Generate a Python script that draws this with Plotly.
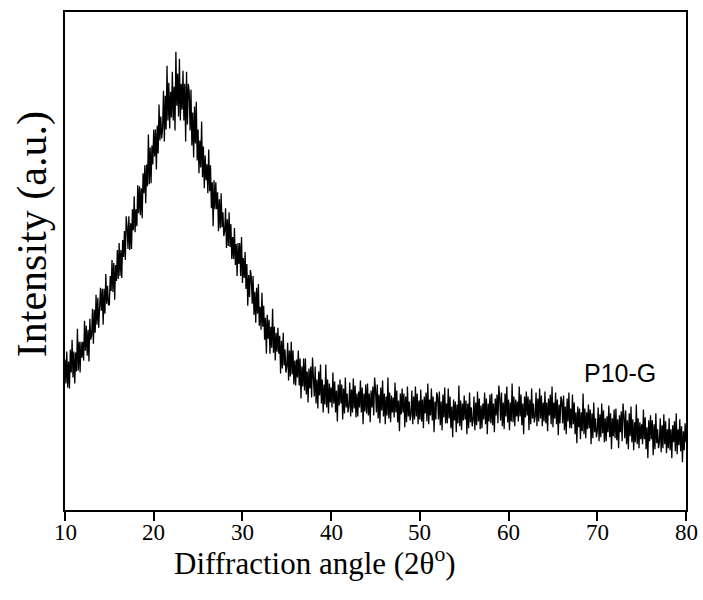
import numpy as np
import plotly.graph_objects as go

# 2-theta sampling grid (degrees), 0.1 deg step from 10 to 80
two_theta = np.round(np.arange(10.0, 80.0001, 0.1), 1)

# Intensity (a.u.), one row per degree
intensity = [
    151, 127, 159, 123, 149, 122, 161, 138, 171, 133,  # 10
    159, 127, 158, 139, 182, 140, 169, 138, 169, 153,  # 11
    169, 150, 190, 160, 185, 155, 181, 149, 192, 171,  # 12
    175, 202, 167, 201, 178, 216, 186, 213, 183, 210,  # 13
    223, 200, 222, 186, 222, 197, 237, 207, 225, 206,  # 14
    206, 235, 220, 251, 219, 248, 211, 246, 230, 261,  # 15
    232, 268, 235, 261, 233, 271, 254, 280, 251, 295,  # 16
    284, 262, 295, 261, 288, 262, 302, 281, 315, 279,  # 17
    302, 285, 326, 298, 325, 296, 323, 293, 338, 318,  # 18
    346, 308, 347, 325, 377, 327, 364, 328, 366, 347,  # 19
    382, 355, 382, 342, 386, 358, 407, 371, 395, 373,  # 20
    383, 421, 370, 416, 382, 446, 391, 429, 383, 420,  # 21
    394, 440, 391, 425, 381, 460, 406, 438, 395, 453,  # 22
    391, 428, 402, 441, 391, 428, 370, 440, 387, 428,  # 23
    420, 381, 422, 366, 399, 354, 405, 368, 410, 351,  # 24
    382, 338, 371, 344, 390, 334, 365, 323, 356, 331,  # 25
    347, 318, 362, 320, 346, 303, 329, 285, 331, 302,  # 26
    329, 302, 319, 280, 312, 283, 318, 284, 299, 275,  # 27
    280, 303, 263, 292, 265, 299, 264, 287, 252, 274,  # 28
    252, 283, 246, 267, 235, 268, 247, 268, 235, 274,  # 29
    228, 253, 233, 259, 222, 247, 205, 236, 214, 241,  # 30
    234, 207, 235, 196, 219, 188, 223, 197, 227, 185,  # 31
    204, 181, 218, 184, 205, 171, 193, 157, 196, 172,  # 32
    191, 157, 184, 163, 202, 158, 184, 150, 178, 159,  # 33
    183, 157, 175, 137, 170, 142, 178, 145, 161, 138,  # 34
    144, 168, 130, 160, 134, 169, 136, 160, 126, 150,  # 35
    125, 151, 133, 160, 125, 152, 112, 144, 124, 152,  # 36
    120, 152, 116, 139, 108, 142, 122, 144, 113, 153,  # 37
    139, 114, 144, 107, 131, 102, 139, 115, 146, 107,  # 38
    131, 98, 126, 106, 146, 103, 131, 97, 127, 108,    # 39
    123, 103, 138, 107, 129, 98, 120, 89, 126, 105,    # 40
    131, 107, 126, 91, 122, 97, 133, 103, 117, 98,     # 41
    104, 128, 94, 121, 98, 132, 102, 125, 93, 117,     # 42
    94, 119, 103, 130, 98, 123, 86, 117, 99, 126,      # 43
    97, 127, 95, 117, 88, 120, 103, 124, 95, 133,      # 44
    121, 98, 126, 92, 116, 87, 123, 100, 130, 94,      # 45
    117, 86, 114, 95, 133, 92, 118, 88, 115, 98,       # 46
    113, 93, 128, 98, 120, 88, 110, 79, 117, 96,       # 47
    122, 98, 117, 83, 114, 88, 124, 94, 109, 90,       # 48
    96, 120, 86, 114, 91, 124, 94, 117, 86, 110,       # 49
    91, 121, 89, 111, 82, 114, 97, 118, 89, 127,       # 50
    86, 111, 95, 122, 90, 114, 78, 109, 91, 118,       # 51
    114, 91, 119, 85, 109, 80, 116, 93, 123, 87,       # 52
    107, 87, 122, 92, 114, 82, 104, 73, 111, 90,       # 53
    109, 78, 106, 87, 125, 84, 110, 80, 107, 90,       # 54
    115, 91, 110, 76, 107, 82, 118, 88, 103, 84,       # 55
    90, 114, 80, 108, 85, 119, 89, 112, 81, 105,       # 56
    82, 107, 91, 118, 86, 112, 76, 107, 89, 116,       # 57
    87, 117, 85, 107, 78, 112, 95, 116, 87, 125,       # 58
    113, 90, 118, 84, 108, 81, 117, 94, 124, 88,       # 59
    111, 80, 108, 89, 127, 88, 114, 84, 111, 94,       # 60
    109, 89, 124, 94, 116, 85, 107, 76, 114, 93,       # 61
    119, 95, 114, 80, 111, 86, 122, 92, 107, 88,       # 62
    94, 118, 84, 112, 89, 122, 92, 115, 84, 108,       # 63
    89, 119, 87, 108, 79, 112, 95, 116, 86, 124,       # 64
    83, 108, 92, 118, 86, 111, 75, 106, 87, 114,       # 65
    110, 87, 115, 80, 104, 76, 112, 89, 118, 82,       # 66
    102, 82, 116, 86, 108, 76, 98, 67, 104, 83,        # 67
    102, 71, 98, 79, 117, 76, 102, 72, 98, 81,         # 68
    106, 82, 101, 66, 97, 72, 108, 78, 92, 73,         # 69
    79, 103, 69, 96, 73, 107, 77, 100, 68, 92,         # 70
    69, 94, 78, 105, 73, 97, 61, 92, 74, 101,          # 71
    72, 102, 70, 91, 62, 95, 78, 99, 69, 107,          # 72
    95, 72, 100, 66, 90, 61, 97, 74, 104, 68,          # 73
    91, 60, 88, 68, 106, 66, 92, 62, 88, 71,           # 74
    86, 66, 101, 71, 93, 61, 83, 52, 90, 69,           # 75
    95, 71, 90, 55, 86, 61, 97, 67, 81, 62,            # 76
    68, 92, 58, 85, 62, 96, 66, 89, 57, 81,            # 77
    62, 92, 60, 81, 52, 85, 68, 89, 59, 97,            # 78
    56, 81, 65, 91, 59, 84, 48, 79, 60, 87,            # 79
    68,                                                # 80
]

x_ticks = [10, 20, 30, 40, 50, 60, 70, 80]
x_tick_labels = ["10", "20", "30", "40", "50", "60", "70", "80"]
sample_label = "P10-G"
x_title = "Diffraction angle (2θ<sup>o</sup>)"
y_title = "Intensity (a.u.)"

serif = "Liberation Serif, Times New Roman, serif"

fig = go.Figure()
fig.add_trace(go.Scatter(
    x=two_theta, y=intensity, mode="lines",
    line=dict(color="black", width=1.3),
    hoverinfo="skip", showlegend=False,
))

# tick labels, set close to the short outside ticks as in the original
for tv, tl in zip(x_ticks, x_tick_labels):
    fig.add_annotation(
        x=tv, y=-0.016, xref="x", yref="paper", text=tl, showarrow=False,
        xanchor="center", yanchor="top",
        font=dict(family=serif, size=23, color="black"),
    )

fig.add_annotation(
    x=72.6, y=138, xref="x", yref="y", text=sample_label, showarrow=False,
    font=dict(family="Liberation Sans, Arial, sans-serif", size=25, color="black"),
)
fig.add_annotation(
    x=0.4026, y=-0.104, xref="paper", yref="paper", text=x_title, showarrow=False,
    xanchor="center", yanchor="middle",
    font=dict(family=serif, size=31, color="black"),
)
fig.add_annotation(
    x=-0.053, y=0.554, xref="paper", yref="paper", text=y_title, showarrow=False,
    textangle=-90, xanchor="center", yanchor="middle",
    font=dict(family=serif, size=42, color="black"),
)

fig.update_layout(
    width=703, height=600,
    margin=dict(l=65, r=17, t=10, b=90),
    paper_bgcolor="white", plot_bgcolor="white",
    showlegend=False,
)
fig.update_xaxes(
    range=[10, 80], tickvals=x_ticks, ticks="outside", ticklen=9, tickwidth=1.5,
    tickcolor="black", showline=True, linecolor="black", linewidth=1.5, mirror=True,
    showgrid=False, zeroline=False, showticklabels=False,
)
fig.update_yaxes(
    range=[0, 500], showticklabels=False, ticks="", showline=True, linecolor="black",
    linewidth=1.5, mirror=True, showgrid=False, zeroline=False,
)

fig.write_html("out.html")
